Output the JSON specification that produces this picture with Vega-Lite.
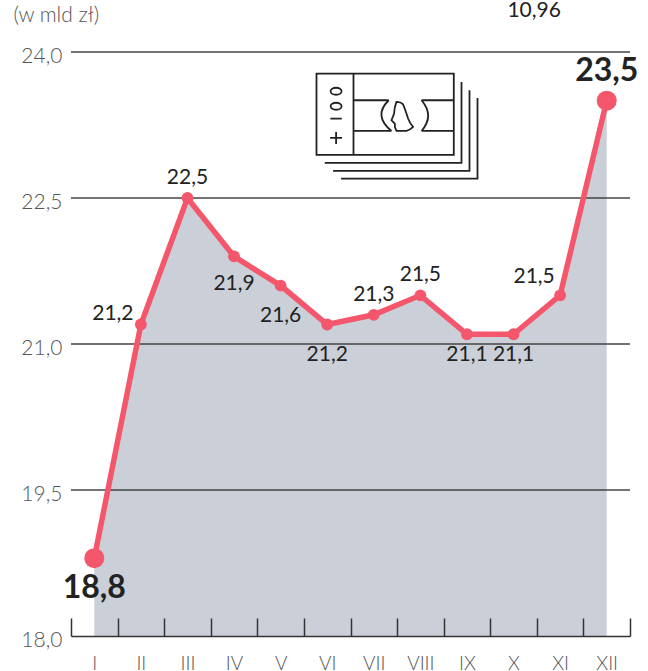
{
"$schema":"https://vega.github.io/schema/vega-lite/v6.json",
"width":559,"height":584,"autosize":"none",
"padding":{"left":71,"top":52,"right":18,"bottom":35},
"background":"white",
"config":{"view":{"stroke":null},"text":{"font":"Lato"},"axis":{"labelFont":"Lato"}},
"datasets":{"d":[
{"m":"I","v":18.8,"lab":"18,8","pos":"first"},
{"m":"II","v":21.2,"lab":"21,2","pos":"leftup"},
{"m":"III","v":22.5,"lab":"22,5","pos":"above"},
{"m":"IV","v":21.9,"lab":"21,9","pos":"below1"},
{"m":"V","v":21.6,"lab":"21,6","pos":"below2"},
{"m":"VI","v":21.2,"lab":"21,2","pos":"below2"},
{"m":"VII","v":21.3,"lab":"21,3","pos":"above"},
{"m":"VIII","v":21.5,"lab":"21,5","pos":"above"},
{"m":"IX","v":21.1,"lab":"21,1","pos":"below3"},
{"m":"X","v":21.1,"lab":"21,1","pos":"below3"},
{"m":"XI","v":21.5,"lab":"21,5","pos":"leftup2"},
{"m":"XII","v":23.5,"lab":"23,5","pos":"last"}
],"g":[{"y":19.5},{"y":21},{"y":22.5},{"y":24}]},
"encoding":{
"x":{"field":"m","type":"nominal","sort":["I","II","III","IV","V","VI","VII","VIII","IX","X","XI","XII"],
"scale":{"type":"band","paddingInner":0,"paddingOuter":0,"domain":["I","II","III","IV","V","VI","VII","VIII","IX","X","XI","XII"]},
"axis":{"title":null,"labelAngle":0,"tickBand":"extent","tickSize":-18,"tickWidth":1.5,"tickColor":"#333","domainColor":"#333","domainWidth":1.5,"labelPadding":45,"labelFontSize":19,"labelFontWeight":300,"labelColor":"#555","zindex":1,"labelBaseline":"middle","labelOverlap":false,"labelBound":false}}
},
"layer":[
{"data":{"name":"d"},"mark":{"type":"area","color":"#cbd0d8"},"encoding":{"y":{"field":"v","type":"quantitative","scale":{"domain":[18,24],"nice":false,"zero":false},"axis":{"title":null,"values":[18,19.5,21,22.5,24],"labelExpr":"replace(format(datum.value,'.1f'),'.',',')","ticks":false,"domain":false,"grid":false,"labelPadding":9,"labelFontSize":21,"labelFontWeight":300,"labelColor":"#555","labelBaseline":"middle","labelOffset":4}},"y2":{"datum":18}}},
{"data":{"name":"g"},"mark":{"type":"rule","color":"#444","strokeWidth":1.5},"encoding":{"x":{"value":0},"x2":{"value":559},"y":{"field":"y","type":"quantitative"}}},
{"data":{"name":"d"},"mark":{"type":"line","color":"#f4566c","strokeWidth":5.5},"encoding":{"y":{"field":"v","type":"quantitative"}}},
{"data":{"name":"d"},"transform":[{"filter":"datum.pos!='first'&&datum.pos!='last'"}],"mark":{"type":"circle","color":"#f4566c","opacity":1,"size":140},"encoding":{"y":{"field":"v","type":"quantitative"}}},
{"data":{"name":"d"},"transform":[{"filter":"datum.pos=='first'||datum.pos=='last'"}],"mark":{"type":"circle","color":"#f4566c","opacity":1,"size":400},"encoding":{"y":{"field":"v","type":"quantitative"}}},
{"data":{"name":"d"},"transform":[{"filter":"datum.pos=='above'"}],"mark":{"type":"text","fontSize":21,"color":"#222","dy":-20},"encoding":{"y":{"field":"v","type":"quantitative"},"text":{"field":"lab"}}},
{"data":{"name":"d"},"transform":[{"filter":"datum.pos=='below1'"}],"mark":{"type":"text","fontSize":21,"color":"#222","dy":27.5},"encoding":{"y":{"field":"v","type":"quantitative"},"text":{"field":"lab"}}},
{"data":{"name":"d"},"transform":[{"filter":"datum.pos=='below2'"}],"mark":{"type":"text","fontSize":21,"color":"#222","dy":30.5},"encoding":{"y":{"field":"v","type":"quantitative"},"text":{"field":"lab"}}},
{"data":{"name":"d"},"transform":[{"filter":"datum.pos=='below3'"}],"mark":{"type":"text","fontSize":21,"color":"#222","dy":21},"encoding":{"y":{"field":"v","type":"quantitative"},"text":{"field":"lab"}}},
{"data":{"name":"d"},"transform":[{"filter":"datum.pos=='leftup'"}],"mark":{"type":"text","fontSize":21,"color":"#222","dx":-28,"dy":-11},"encoding":{"y":{"field":"v","type":"quantitative"},"text":{"field":"lab"}}},
{"data":{"name":"d"},"transform":[{"filter":"datum.pos=='leftup2'"}],"mark":{"type":"text","fontSize":21,"color":"#222","dx":-26,"dy":-18},"encoding":{"y":{"field":"v","type":"quantitative"},"text":{"field":"lab"}}},
{"data":{"name":"d"},"transform":[{"filter":"datum.pos=='first'"}],"mark":{"type":"text","fontSize":32,"fontWeight":"bold","color":"#222","dy":30},"encoding":{"y":{"field":"v","type":"quantitative"},"text":{"field":"lab"}}},
{"data":{"name":"d"},"transform":[{"filter":"datum.pos=='last'"}],"mark":{"type":"text","fontSize":32,"fontWeight":"bold","color":"#222","dy":-30},"encoding":{"y":{"field":"v","type":"quantitative"},"text":{"field":"lab"}}},
{"data":{"values":[{"m":"XI","y":24.42,"t":"10,96"}]},"mark":{"type":"text","fontSize":21,"color":"#222","dx":-26},"encoding":{"y":{"field":"y","type":"quantitative"},"text":{"field":"t"}}},
{"data":{"values":[{"m":"I","y":24.365,"t":"(w mld zł)"}]},"mark":{"type":"text","fontSize":21,"fontWeight":300,"color":"#555","dx":-38},"encoding":{"y":{"field":"y","type":"quantitative"},"text":{"field":"t"}}},
{"data":{"values":[{"m":"VII","y":23.35}]},"mark":{"type":"point","filled":false,"opacity":1,"size":4,"color":"#222","strokeWidth":1.8,"shape":"M-57.3 -41.7H80V39.7H-57.3ZM-20.3 -41.7V39.7M-20.3 -15H15M-20.3 15.7H17.7M15 -15Q-1 0.4 17.7 15.7M47.7 -15H80M47.7 15.7H80M47.7 -15Q61 0.4 47.7 15.7M22.7 -13.3Q27 -13.5 29.3 -11Q32 -4 34.3 3.3Q36 8 39.3 11.7Q36 15 32.7 15.7L22.7 15.7Q20.5 12 21 8.3L17.7 5L20.3 -1.7Q20.5 -8 22.7 -13.3ZM-43.2 -24A5.5 3.5 0 1 0 -32.2 -24A5.5 3.5 0 1 0 -43.2 -24ZM-43.2 -9A5.5 3.5 0 1 0 -32.2 -9A5.5 3.5 0 1 0 -43.2 -9ZM-43.4 3.3H-32M-43.7 22.7H-31.7M-37.7 16.7V28.7M-49 47.7H87.7V-33.3M-40.7 55.7H95.7V-25M-32.7 63.3H103.7V-17.3"},"encoding":{"y":{"field":"y","type":"quantitative"}}}
]
}
